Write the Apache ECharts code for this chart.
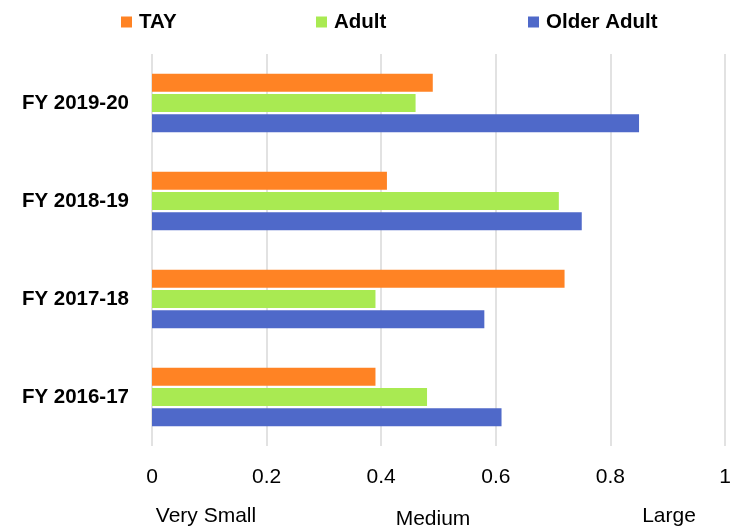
<!DOCTYPE html>
<html><head><meta charset="utf-8">
<script src="https://cdn.jsdelivr.net/npm/echarts@6/dist/echarts.min.js"></script>
<style>html,body{margin:0;padding:0;background:#fff}#c{width:745px;height:528px}</style>
</head><body><div id="c"></div>
<script>
const categories = ['FY 2019-20', 'FY 2018-19', 'FY 2017-18', 'FY 2016-17'];
const seriesNames = ['TAY', 'Adult', 'Older Adult'];
const tayValues = [0.49, 0.41, 0.72, 0.39];
const adultValues = [0.46, 0.71, 0.39, 0.48];
const olderAdultValues = [0.85, 0.75, 0.58, 0.61];
const xTickLabels = ['0', '0.2', '0.4', '0.6', '0.8', '1'];
const scaleLabels = ['Very Small', 'Medium', 'Large'];

const colors = ['#FF8324', '#A9EA52', '#4F69C9'];
const chart = echarts.init(document.getElementById('c'), null, {renderer: 'canvas'});
const boldFont = {fontFamily: 'Liberation Sans', fontWeight: 'bold', fontSize: 20.5, color: '#000'};
const legendLefts = [121, 316, 528];
const scalePos = [[206, 516], [433, 519.5], [669, 516]];

const option = {
  animation: false,
  backgroundColor: '#fff',
  legend: seriesNames.map((n, i) => ({
    data: [n], left: legendLefts[i], top: 11, itemWidth: 11, itemHeight: 11, icon: 'rect',
    selectedMode: false, padding: 0,
    textStyle: Object.assign({}, boldFont, {lineHeight: 22, padding: [0, 0, 0, 2]})
  })),
  grid: {left: 152, right: 20, top: 54, bottom: 82},
  xAxis: {
    type: 'value', min: 0, max: 1, interval: 0.2,
    axisLine: {show: false}, axisTick: {show: false},
    splitLine: {lineStyle: {color: '#D9D9D9', width: 1.5}},
    axisLabel: {fontFamily: 'Liberation Sans', fontSize: 21, color: '#000', margin: 21,
      formatter: (v, i) => xTickLabels[i]}
  },
  yAxis: {
    type: 'category', inverse: true, data: categories,
    axisLine: {show: false}, axisTick: {show: false},
    axisLabel: Object.assign({}, boldFont, {margin: 23})
  },
  series: [tayValues, adultValues, olderAdultValues].map((d, i) => ({
    name: seriesNames[i], type: 'bar', data: d, barWidth: 18, barGap: '12%',
    itemStyle: {color: colors[i]}
  })),
  graphic: scaleLabels.map((t, i) => ({
    type: 'text', x: scalePos[i][0], y: scalePos[i][1],
    style: {text: t, fontSize: 21, fontFamily: 'Liberation Sans', fill: '#000',
      align: 'center', verticalAlign: 'middle', textAlign: 'center', textVerticalAlign: 'middle'}
  }))
};
chart.setOption(option);
</script></body></html>
